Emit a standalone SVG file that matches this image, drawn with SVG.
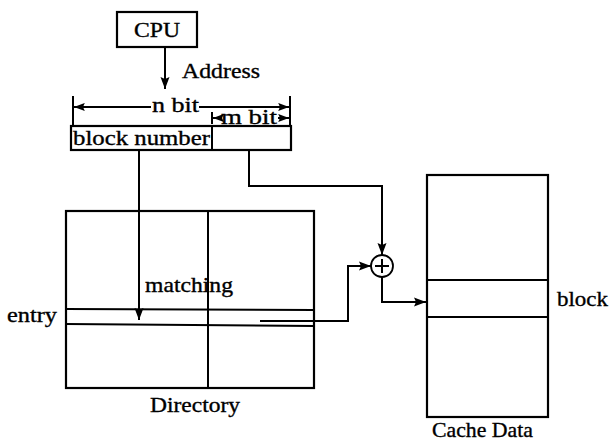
<svg xmlns="http://www.w3.org/2000/svg" width="610" height="443" viewBox="0 0 610 443">
<style>
.box{fill:none;stroke:#000;stroke-width:2.2}
.ln{fill:none;stroke:#000;stroke-width:2}
.t{font-family:"Liberation Serif","Times New Roman",serif;font-size:21px;fill:#000;stroke:#000;stroke-width:0.35}
</style>
<defs>
<marker id="ah" viewBox="0 0 12 10" refX="12" refY="5" markerWidth="13" markerHeight="10" markerUnits="userSpaceOnUse" orient="auto">
<path d="M0,0.5 L12,5 L0,9.5 L2,5 Z" fill="#000"/>
</marker>
<marker id="ahs" viewBox="0 0 12 10" refX="12" refY="5" markerWidth="11" markerHeight="9" markerUnits="userSpaceOnUse" orient="auto-start-reverse">
<path d="M0,0.5 L12,5 L0,9.5 L2,5 Z" fill="#000"/>
</marker>
</defs>
<rect width="610" height="443" fill="#fff"/>
<g id="cpu">
<rect class="box" x="117" y="12" width="80" height="35"/>
<text class="t" x="157" y="37" text-anchor="middle" textLength="46" lengthAdjust="spacingAndGlyphs">CPU</text>
</g>
<g id="address">
<text class="t" x="182" y="78" textLength="78" lengthAdjust="spacingAndGlyphs">Address</text>
</g>
<g id="register">
<rect class="box" x="71" y="126" width="220" height="24"/>
<line class="ln" x1="212" y1="126" x2="212" y2="150"/>
<text class="t" x="73" y="145" textLength="137" lengthAdjust="spacingAndGlyphs">block number</text>
</g>
<g id="dims">
<line class="ln" x1="73" y1="96" x2="73" y2="126" stroke-width="1.5"/>
<line class="ln" x1="290" y1="96" x2="290" y2="126" stroke-width="1.5"/>
<line class="ln" x1="212" y1="112" x2="212" y2="124" stroke-width="1.5"/>
<line class="ln" x1="106" y1="107" x2="74" y2="107" marker-end="url(#ahs)"/>
<line class="ln" x1="106" y1="107" x2="151" y2="107"/>
<line class="ln" x1="199" y1="107" x2="289" y2="107" marker-end="url(#ahs)"/>
<text class="t" x="152" y="112" textLength="47" lengthAdjust="spacingAndGlyphs">n bit</text>
<line class="ln" x1="218" y1="118" x2="213" y2="118" marker-end="url(#ahs)"/>
<line class="ln" x1="278" y1="118" x2="289" y2="118" marker-end="url(#ahs)"/>
<text class="t" x="221" y="124" textLength="56" lengthAdjust="spacingAndGlyphs">m bit</text>
</g>
<g id="directory">
<rect class="box" x="66" y="211" width="248" height="177"/>
<line class="ln" x1="208" y1="211" x2="208" y2="388"/>
<line class="ln" x1="66" y1="309" x2="314" y2="310"/>
<line class="ln" x1="66" y1="324" x2="314" y2="326"/>
<text class="t" x="150" y="412" textLength="90" lengthAdjust="spacingAndGlyphs">Directory</text>
<text class="t" x="145" y="292" textLength="88" lengthAdjust="spacingAndGlyphs">matching</text>
<text class="t" x="7" y="322" textLength="50" lengthAdjust="spacingAndGlyphs">entry</text>
</g>
<g id="adder">
<circle cx="382" cy="266" r="11" fill="#fff" stroke="#000" stroke-width="1.8"/>
<line class="ln" x1="375" y1="266" x2="389" y2="266" stroke-width="1.6"/>
<line class="ln" x1="382" y1="259" x2="382" y2="273" stroke-width="1.6"/>
</g>
<g id="cache">
<rect class="box" x="427" y="175" width="121" height="242"/>
<line class="ln" x1="427" y1="280" x2="548" y2="280"/>
<line class="ln" x1="427" y1="317" x2="548" y2="317"/>
<text class="t" x="557" y="306" textLength="51" lengthAdjust="spacingAndGlyphs">block</text>
<text class="t" x="432" y="437" textLength="101" lengthAdjust="spacingAndGlyphs">Cache Data</text>
</g>
<g id="connectors">
<line class="ln" x1="165" y1="47" x2="165" y2="89" marker-end="url(#ah)"/>
<line class="ln" x1="139" y1="150" x2="139" y2="320" marker-end="url(#ah)"/>
<polyline class="ln" points="249,150 249,186 382,186 382,255" marker-end="url(#ah)"/>
<polyline class="ln" points="260,321 348,321 348,266 371,266" marker-end="url(#ah)"/>
<polyline class="ln" points="382,277 382,302 426,302" marker-end="url(#ah)"/>
</g>
</svg>
